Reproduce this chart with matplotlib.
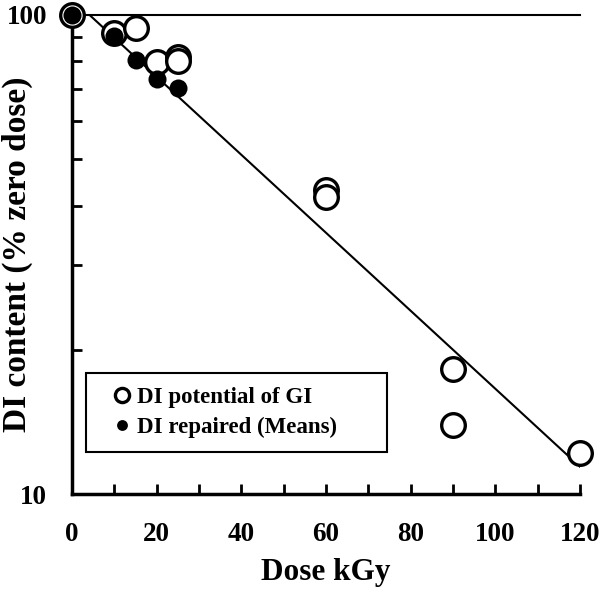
import matplotlib.pyplot as plt
from matplotlib.ticker import FixedLocator, NullFormatter

# DI potential of GI (open circles)
gi_dose = [0, 10, 15, 20, 25, 25, 60, 60, 90, 90, 120]
gi_pct = [100, 91.7, 93.9, 79.6, 81.7, 80.1, 43.1, 41.7, 18.2, 13.9, 12.2]

# DI repaired, means (filled circles)
rep_dose = [0, 10, 15, 20, 25]
rep_pct = [100, 90.5, 80.5, 73.5, 70.3]

# exponential trend line (end points)
trend_dose = [0, 120]
trend_pct = [108.1, 11.4]

plt.rcParams["font.family"] = ["Liberation Serif", "DejaVu Serif"]
plt.rcParams["font.weight"] = "bold"

fig = plt.figure(figsize=(6.03, 5.93), dpi=100)
ax = fig.add_axes([72 / 603, 1 - 494 / 593, 508 / 603, 479 / 593])

ax.plot(trend_dose, trend_pct, color="black", lw=1.5, zorder=2)
ax.plot(gi_dose, gi_pct, "o", ls="none", ms=17, mfc="white", mec="black", mew=2.4,
        clip_on=False, zorder=3, label="DI potential of GI")
ax.plot(rep_dose, rep_pct, "o", ls="none", ms=13, mfc="black", mec="black", mew=0,
        clip_on=False, zorder=4, label="DI repaired (Means)")

ax.set_yscale("log")
ax.set_ylim(10, 100)
ax.set_xlim(0, 120)

ax.yaxis.set_major_locator(FixedLocator([10, 100]))
ax.yaxis.set_major_formatter(plt.FixedFormatter(["10", "100"]))
ax.yaxis.set_minor_locator(FixedLocator([20, 30, 40, 50, 60, 70, 80, 90]))
ax.yaxis.set_minor_formatter(NullFormatter())
ax.set_xticks(range(0, 121, 20))
ax.set_xticks(range(10, 120, 20), minor=True)

ax.tick_params(axis="both", which="both", direction="in", length=7, width=2,
               labelsize=19.5, top=False, right=False)
ax.tick_params(axis="x", pad=20)
ax.tick_params(axis="y", pad=18)

for lab in ax.get_xticklabels() + ax.get_yticklabels():
    lab.set_fontweight("bold")

ax.spines["right"].set_visible(False)
ax.spines["top"].set_linewidth(1.5)
ax.spines["left"].set_linewidth(2.5)
ax.spines["bottom"].set_linewidth(2.5)

ax.set_xlabel("Dose kGy", fontsize=22.5, fontweight="bold", labelpad=8)
ax.set_ylabel("DI content (% zero dose)", fontsize=24, fontweight="bold")
ax.yaxis.set_label_coords(-0.077, 0.5)

leg = ax.legend(loc="lower left", bbox_to_anchor=(0.0276, 0.0877, 0.592, 0.184),
                mode="expand", fontsize=16.5, markerscale=0.6, handlelength=1.9,
                handletextpad=-0.27, labelspacing=0.4, borderpad=0.6,
                fancybox=False, framealpha=1, edgecolor="black", borderaxespad=0)
leg.get_frame().set_linewidth(1.5)
for t in leg.get_texts():
    t.set_fontweight("bold")

fig.savefig("out.png", dpi=100)
